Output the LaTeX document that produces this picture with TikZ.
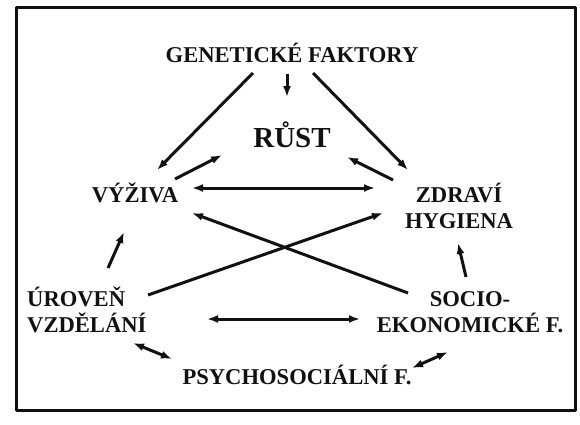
\documentclass[tikz,border=0pt]{standalone}
\usepackage{fontspec}
\setmainfont{Liberation Serif}
\usepackage{xcolor}
\usepackage{tikz}
\usetikzlibrary{arrows.meta}
\definecolor{ink}{HTML}{111111}
\tikzset{fig/.style={line join=round,>={Latex[length=11pt,width=8pt]}},
  lbl/.style={font=\fontsize{22.6}{26}\selectfont\bfseries,text=ink,inner sep=0pt},
  con/.style={ink,line width=3pt}}

\begin{document}
\begin{tikzpicture}[fig,x=1pt,y=-1pt]
  \useasboundingbox (0,0) rectangle (580,424);
  \draw[ink,line width=3pt](16,7)rectangle(575,410);
  \node[lbl,anchor=base](gen)at(292,62){GENETICKÉ FAKTORY};
  \node[lbl,anchor=base,font=\fontsize{29}{32}\selectfont\bfseries](rust)at(292,147){RŮST};
  \node[lbl,anchor=base](vyz)at(135,202){VÝŽIVA};
  \node[lbl,anchor=base,align=center](zdr)at(459,228){ZDRAVÍ\\HYGIENA};
  \node[lbl,anchor=base west,align=left](urov)at(27,332){ÚROVEŇ\\VZDĚLÁNÍ};
  \node[lbl,anchor=base,align=center](soc)at(470,332){SOCIO-\\EKONOMICKÉ F.};
  \node[lbl,anchor=base](psy)at(297,384){PSYCHOSOCIÁLNÍ F.};
  % genetika
  \draw[con,->]([shift={(-39,11)}]gen.base)--([shift={(22,-32)}]vyz.base);
  \draw[con,->]([shift={(-5,12)}]gen.base)--([shift={(-5,-50)}]rust.base);
  \draw[con,->]([shift={(21,11)}]gen.base)--([shift={(-51,-58)}]zdr.base);
  % k rustu
  \draw[con,->]([shift={(40,-23)}]vyz.base)--([shift={(-70,8)}]rust.base);
  \draw[con,->]([shift={(-66,-48)}]zdr.base)--([shift={(55,10)}]rust.base);
  \draw[con,<->]([shift={(57,-14)}]vyz.base)--([shift={(-84,-40)}]zdr.base);
  % krizem
  \draw[con,->]([shift={(-62,-39)}]soc.base)--([shift={(57,11)}]vyz.base);
  \draw[con,->]([shift={(121,-37)}]urov.base west)--([shift={(-76,-15)}]zdr.base);
  \draw[con,->]([shift={(81,-64)}]urov.base west)--([shift={(-11,30)}]vyz.base);
  \draw[con,->]([shift={(-4,-55)}]soc.base)--([shift={(-1,15)}]zdr.base);
  % dole
  \draw[con,<->]([shift={(180,-13)}]urov.base west)--([shift={(-110,-13)}]soc.base);
  \draw[con,<->]([shift={(106,11)}]urov.base west)--([shift={(-125,-25)}]psy.base);
  \draw[con,<->]([shift={(115,-16)}]psy.base)--([shift={(-22,20)}]soc.base);
\end{tikzpicture}
\end{document}
